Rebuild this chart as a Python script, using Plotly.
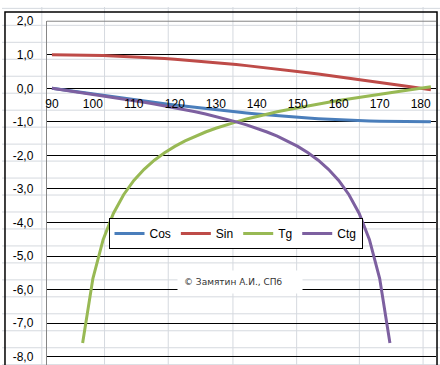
import plotly.graph_objects as go

# ---- data ----
angles = [90, 92.5, 95, 97.5, 100, 102.5, 105, 107.5, 110, 112.5, 115, 117.5, 120,
          122.5, 125, 127.5, 130, 132.5, 135, 137.5, 140, 142.5, 145, 147.5, 150,
          152.5, 155, 157.5, 160, 162.5, 165, 167.5, 170, 172.5, 175, 177.5, 180, 182.5]

cos_vals = [0, -0.044, -0.087, -0.131, -0.174, -0.216, -0.259, -0.301, -0.342, -0.383,
            -0.423, -0.462, -0.5, -0.537, -0.574, -0.609, -0.643, -0.676, -0.707, -0.737,
            -0.766, -0.793, -0.819, -0.843, -0.866, -0.887, -0.906, -0.924, -0.94, -0.954,
            -0.966, -0.976, -0.985, -0.991, -0.996, -0.999, -1.0, -0.999]

sin_vals = [1.0, 0.999, 0.996, 0.991, 0.985, 0.976, 0.966, 0.954, 0.94, 0.924,
            0.906, 0.887, 0.866, 0.843, 0.819, 0.793, 0.766, 0.737, 0.707, 0.676,
            0.643, 0.609, 0.574, 0.537, 0.5, 0.462, 0.423, 0.383, 0.342, 0.301,
            0.259, 0.216, 0.174, 0.131, 0.087, 0.044, 0.0, -0.044]

tg_vals = [None, None, None, -7.596, -5.671, -4.511, -3.732, -3.172, -2.747, -2.414,
           -2.145, -1.921, -1.732, -1.57, -1.428, -1.303, -1.192, -1.091, -1.0, -0.916,
           -0.839, -0.767, -0.7, -0.637, -0.577, -0.521, -0.466, -0.414, -0.364, -0.315,
           -0.268, -0.222, -0.176, -0.132, -0.087, -0.044, 0.0, 0.044]

ctg_vals = [0, -0.044, -0.087, -0.132, -0.176, -0.222, -0.268, -0.315, -0.364, -0.414,
            -0.466, -0.521, -0.577, -0.637, -0.7, -0.767, -0.839, -0.916, -1.0, -1.091,
            -1.192, -1.303, -1.428, -1.57, -1.732, -1.921, -2.145, -2.414, -2.747, -3.172,
            -3.732, -4.511, -5.671, -7.596, None, None, None, None]

series_names = ["Cos", "Sin", "Tg", "Ctg"]
series_colors = ["#4A7EBB", "#BE4B48", "#98B954", "#7D60A0"]

x_tick_vals = [90, 100, 110, 120, 130, 140, 150, 160, 170, 180]
x_tick_text = ["90", "100", "110", "120", "130", "140", "150", "160", "170", "180"]
y_tick_vals = [-8, -7, -6, -5, -4, -3, -2, -1, 0, 1, 2]
y_tick_text = ["-8,0", "-7,0", "-6,0", "-5,0", "-4,0", "-3,0", "-2,0", "-1,0", "0,0", "1,0", "2,0"]

copyright_text = "© Замятин А.И., СПб"

# ---- layout geometry (pixels) ----
W, H = 440, 365
PX_LEFT, PX_RIGHT, PX_TOP = 45, 436, 14.5
X_RANGE = [88.75, 183.75]
Y_RANGE = [-8.25, 2.0]

def px(x):
    return x / W

def py(y):
    return 1 - y / H

fig = go.Figure()
for name, vals, col in zip(series_names, [cos_vals, sin_vals, tg_vals, ctg_vals], series_colors):
    fig.add_trace(go.Scatter(x=angles, y=vals, mode="lines", name=name,
                             line=dict(color=col, width=3), connectgaps=False,
                             hoverinfo="skip"))

y_dom_top = py(PX_TOP)
zero_pos = (0 - Y_RANGE[0]) / (Y_RANGE[1] - Y_RANGE[0]) * y_dom_top

shapes = []
grid_col = "#D5D9DF"
# spreadsheet cell grid (background)
for cx in [40, 103, 167, 232, 296, 359, 423]:
    shapes.append(dict(type="line", xref="paper", yref="paper", x0=px(cx), x1=px(cx),
                       y0=0, y1=1, line=dict(color=grid_col, width=1), layer="below"))
ry = 1.4
while ry < H:
    shapes.append(dict(type="line", xref="paper", yref="paper", x0=0, x1=1,
                       y0=py(ry), y1=py(ry), line=dict(color=grid_col, width=1), layer="below"))
    ry += 17.3
# chart frame
shapes.append(dict(type="rect", xref="paper", yref="paper", x0=px(3), x1=px(437),
                   y0=py(375), y1=py(5), line=dict(color="black", width=1.5),
                   fillcolor="rgba(0,0,0,0)", layer="below"))
# plot-area top border
shapes.append(dict(type="line", xref="x domain", yref="y domain", x0=0, x1=1, y0=1, y1=1,
                   line=dict(color="#868686", width=1), layer="above"))

fig.update_layout(
    width=W, height=H,
    margin=dict(l=0, r=0, t=0, b=0),
    paper_bgcolor="white",
    plot_bgcolor="rgba(0,0,0,0)",
    font=dict(family="Liberation Sans, Arial, sans-serif", size=12, color="black"),
    shapes=shapes,
    showlegend=True,
    legend=dict(orientation="h", x=px(107), y=py(215), xanchor="left", yanchor="top",
                bgcolor="white", bordercolor="black", borderwidth=1,
                font=dict(size=12), itemwidth=30, tracegroupgap=0),
    xaxis=dict(domain=[px(PX_LEFT), px(PX_RIGHT)], range=X_RANGE,
               anchor="free", position=zero_pos,
               tickmode="array", tickvals=x_tick_vals, ticktext=x_tick_text,
               showgrid=False, zeroline=False, showline=False, ticks="",
               ticklabelstandoff=7, tickfont=dict(size=12)),
    yaxis=dict(domain=[0, y_dom_top], range=Y_RANGE,
               tickmode="array", tickvals=y_tick_vals, ticktext=y_tick_text,
               showgrid=True, gridcolor="black", gridwidth=1, zeroline=False,
               showline=True, linecolor="#868686", linewidth=1, ticks="",
               ticklabelstandoff=10, tickfont=dict(size=12)),
    annotations=[dict(text=copyright_text, xref="paper", yref="paper",
                      x=px(239), y=py(280), xanchor="center", yanchor="middle",
                      showarrow=False, bgcolor="white", borderpad=6, width=112, align="left",
                      font=dict(family="DejaVu Sans", size=9, color="#333333"))],
)

fig.write_html("out.html", config={"displayModeBar": False},
               post_script="document.body.style.margin='0';document.body.style.overflow='hidden';")
